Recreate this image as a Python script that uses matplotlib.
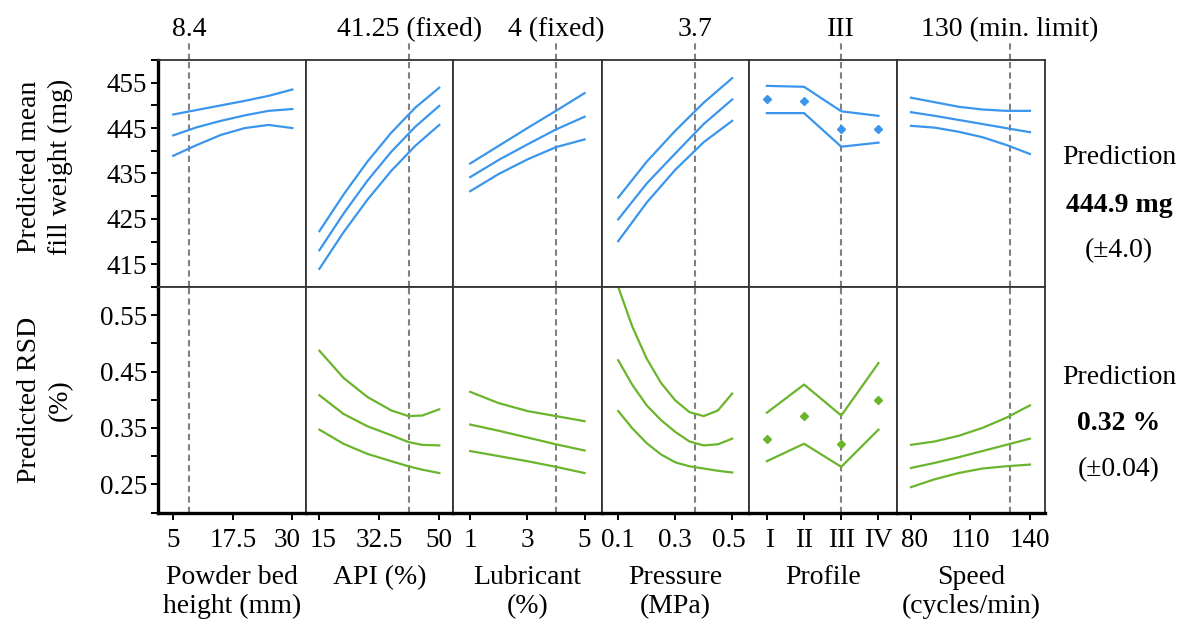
import numpy as np
import matplotlib.pyplot as plt
import matplotlib.transforms as mtransforms
from matplotlib.ticker import FixedLocator, NullFormatter

plt.rcParams['font.family'] = ['Liberation Serif', 'DejaVu Serif']
plt.rcParams['font.size'] = 20

BLUE = '#3a96ec'
GREEN = '#6ab52c'
DASH = '#808080'
FRAME = '#333333'

# factor axes
factor_names = ["Powder bed\nheight (mm)", "API (%)", "Lubricant\n(%)",
                "Pressure\n(MPa)", "Profile", "Speed\n(cycles/min)"]
set_points = [8.4, 41.25, 4, 0.37, 3, 130]
set_labels = ["8.4", "41.25 (fixed)", "4 (fixed)", "3.7", "III", "130 (min. limit)"]
x_limits = [(1.8, 32.8), (11, 54.1), (0.41, 5.6), (0.042, 0.559), (0.52, 4.49), (72.8, 147.6)]
x_ticks = [[5, 17.5, 30], [15, 32.5, 50], [1, 3, 5], [0.1, 0.3, 0.5], [1, 2, 3, 4], [80, 110, 140]]
x_ticklabels = [["5", "17.5", "30"], ["15", "32.5", "50"], ["1", "3", "5"],
                ["0.1", "0.3", "0.5"], ["I", "II", "III", "IV"], ["80", "110", "140"]]
# small sideways nudges (px) so neighbouring panel labels don't touch
x_label_nudge = [[0, 0, -5], [4, 0, 0], [0, 0, 0], [0, 0, -3], [3, 0, 0, 0], [4, 0, 0]]

# powder bed height (mm)
height_x = [5, 10, 15, 20, 25, 30]
height_w_hi = [448.0, 449.0, 450.0, 451.0, 452.1, 453.5]
height_w_mid = [443.4, 445.2, 446.6, 447.8, 448.8, 449.2]
height_w_lo = [438.9, 441.3, 443.5, 445.0, 445.7, 445.0]

# API (%)
api_x_w = [15, 22, 29, 36, 43, 50]
api_w_hi = [422.3, 430.3, 437.6, 444.0, 449.5, 453.9]
api_w_mid = [418.1, 426.1, 433.4, 439.8, 445.3, 449.9]
api_w_lo = [414.0, 422.0, 429.2, 435.6, 441.1, 445.7]
api_x_r = [15, 22, 29, 36, 41, 45, 50]
api_r_hi = [0.487, 0.439, 0.405, 0.381, 0.371, 0.372, 0.383]
api_r_mid = [0.408, 0.375, 0.353, 0.337, 0.325, 0.320, 0.319]
api_r_lo = [0.347, 0.322, 0.304, 0.291, 0.282, 0.276, 0.270]

# lubricant (%)
lub_x = [1, 2, 3, 4, 5]
lub_w_hi = [437.2, 441.1, 445.0, 448.8, 452.7]
lub_w_mid = [434.2, 438.0, 441.4, 444.7, 447.5]
lub_w_lo = [431.1, 434.9, 438.1, 440.8, 442.5]
lub_r_hi = [0.414, 0.394, 0.380, 0.371, 0.362]
lub_r_mid = [0.356, 0.345, 0.333, 0.321, 0.310]
lub_r_lo = [0.309, 0.300, 0.291, 0.281, 0.270]

# pressure (MPa)
pres_x_w = [0.1, 0.2, 0.3, 0.4, 0.5]
pres_w_hi = [429.7, 437.6, 444.4, 450.6, 456.0]
pres_w_mid = [424.9, 432.8, 439.4, 445.9, 451.3]
pres_w_lo = [420.1, 428.6, 435.8, 441.9, 446.6]
pres_x_r = [0.1, 0.15, 0.2, 0.25, 0.3, 0.35, 0.4, 0.45, 0.5]
pres_r_hi = [0.600, 0.529, 0.473, 0.430, 0.399, 0.378, 0.371, 0.381, 0.411]
pres_r_mid = [0.470, 0.426, 0.390, 0.364, 0.343, 0.326, 0.319, 0.321, 0.331]
pres_r_lo = [0.380, 0.349, 0.323, 0.303, 0.289, 0.282, 0.278, 0.274, 0.271]

# filling profile (categorical I-IV)
prof_x = [1, 2, 3, 4]
prof_w_hi = [454.3, 454.1, 448.7, 447.7]
prof_w_mid = [451.3, 451.0, 444.9, 444.9]
prof_w_lo = [448.3, 448.3, 440.9, 441.8]
prof_r_hi = [0.377, 0.427, 0.372, 0.465]
prof_r_mid = [0.331, 0.371, 0.321, 0.400]
prof_r_lo = [0.291, 0.322, 0.281, 0.347]

# speed (cycles/min)
speed_x = [80, 92, 104, 116, 128, 140]
speed_w_hi = [451.7, 450.7, 449.7, 449.1, 448.8, 448.8]
speed_w_mid = [448.5, 447.7, 446.8, 445.9, 445.0, 444.1]
speed_w_lo = [445.5, 445.1, 444.2, 443.0, 441.3, 439.3]
speed_r_hi = [0.320, 0.326, 0.336, 0.350, 0.368, 0.390]
speed_r_mid = [0.279, 0.288, 0.298, 0.309, 0.320, 0.331]
speed_r_lo = [0.245, 0.259, 0.270, 0.278, 0.282, 0.285]

weight_curves = [
    (height_x, height_w_hi, height_w_mid, height_w_lo),
    (api_x_w, api_w_hi, api_w_mid, api_w_lo),
    (lub_x, lub_w_hi, lub_w_mid, lub_w_lo),
    (pres_x_w, pres_w_hi, pres_w_mid, pres_w_lo),
    (prof_x, prof_w_hi, prof_w_mid, prof_w_lo),
    (speed_x, speed_w_hi, speed_w_mid, speed_w_lo),
]
rsd_curves = [
    None,  # bed height not in the RSD model
    (api_x_r, api_r_hi, api_r_mid, api_r_lo),
    (lub_x, lub_r_hi, lub_r_mid, lub_r_lo),
    (pres_x_r, pres_r_hi, pres_r_mid, pres_r_lo),
    (prof_x, prof_r_hi, prof_r_mid, prof_r_lo),
    (speed_x, speed_r_hi, speed_r_mid, speed_r_lo),
]

W, H = 1181, 626
fig = plt.figure(figsize=(W / 100, H / 100), dpi=100)

col_edges = [158, 305.7, 453.3, 601.7, 749, 896.7, 1045]
rows = [(60, 287), (287, 512.5)]


def px_axes(x0, x1, y0, y1):
    return fig.add_axes([x0 / W, 1 - y1 / H, (x1 - x0) / W, (y1 - y0) / H])


def draw_curves(ax, curves, color, categorical):
    xs, hi, mid, lo = curves
    for ys in (hi, lo):
        ax.plot(xs, ys, color=color, lw=1.6, solid_joinstyle='round')
    if categorical:
        ax.plot(xs, mid, 'D', color=color, ms=4.5, mec=color)
    else:
        ax.plot(xs, mid, color=color, lw=1.6, solid_joinstyle='round')


for r, (y0, y1) in enumerate(rows):
    for c in range(6):
        ax = px_axes(col_edges[c], col_edges[c + 1], y0, y1)
        ax.set_xlim(*x_limits[c])
        if r == 0:
            ax.set_ylim(410, 460)
        else:
            ax.set_ylim(0.2, 0.6)

        for side in ax.spines:
            ax.spines[side].set_color(FRAME)
            ax.spines[side].set_linewidth(1.3)
        if c == 0:
            ax.spines['left'].set_color('black')
            ax.spines['left'].set_linewidth(2.4)
        if r == 1:
            ax.spines['bottom'].set_color('black')
            ax.spines['bottom'].set_linewidth(2.4)

        # setting marker
        ax.axvline(set_points[c], color=DASH, lw=1.5, ls=(0, (3, 2)), zorder=1)
        if r == 0:
            ax.axvline(set_points[c], ymin=1, ymax=1.08, color=DASH, lw=1.5,
                       ls=(0, (3, 2)), clip_on=False)
            ax.text(set_points[c], 1.135, set_labels[c], transform=ax.get_xaxis_transform(),
                    ha='center', va='center', fontsize=20)

        if r == 0:
            draw_curves(ax, weight_curves[c], BLUE, c == 4)
        elif rsd_curves[c] is not None:
            draw_curves(ax, rsd_curves[c], GREEN, c == 4)

        ax.tick_params(which='both', direction='out', length=5, width=1.4, color='black',
                       labelsize=19.5, pad=3)
        ax.tick_params(axis='x', pad=6)
        if c == 0:
            if r == 0:
                ax.yaxis.set_major_locator(FixedLocator([415, 425, 435, 445, 455]))
                ax.yaxis.set_minor_locator(FixedLocator([410, 420, 430, 440, 450, 460]))
            else:
                ax.yaxis.set_major_locator(FixedLocator([0.25, 0.35, 0.45, 0.55]))
                ax.yaxis.set_minor_locator(FixedLocator([0.2, 0.3, 0.4, 0.5, 0.6]))
                ax.set_yticklabels(["0.25", "0.35", "0.45", "0.55"])
            ax.yaxis.set_minor_formatter(NullFormatter())
        else:
            ax.set_yticks([])

        if r == 1:
            ax.set_xticks(x_ticks[c])
            ax.set_xticklabels(x_ticklabels[c])
            for lab, dx in zip(ax.get_xticklabels(), x_label_nudge[c]):
                if dx:
                    shift = mtransforms.ScaledTranslation(dx / 100, 0, fig.dpi_scale_trans)
                    lab.set_transform(lab.get_transform() + shift)
            ax.set_xlabel(factor_names[c], fontsize=20, labelpad=9, linespacing=1.2)
        else:
            ax.set_xticks([])

# response axis titles
fig.text(45 / W, 1 - 167 / H, "Predicted mean\nfill weight (mg)", rotation=90,
         ha='center', va='center', multialignment='center', fontsize=20, linespacing=1.35)
fig.text(45 / W, 1 - 400 / H, "Predicted RSD\n(%)", rotation=90,
         ha='center', va='center', multialignment='center', fontsize=20, linespacing=1.35)

# predictions at the chosen setting
for y_pos, txt, weight in [(157, "Prediction", 'normal'), (205, "444.9 mg", 'bold'),
                           (251, "(\u00b14.0)", 'normal'), (378, "Prediction", 'normal'),
                           (424, "0.32 %", 'bold'), (470, "(\u00b10.04)", 'normal')]:
    fig.text(1119 / W, 1 - y_pos / H, txt, ha='center', va='center',
             fontsize=20, fontweight=weight)

fig.savefig("out.png", dpi=100)
